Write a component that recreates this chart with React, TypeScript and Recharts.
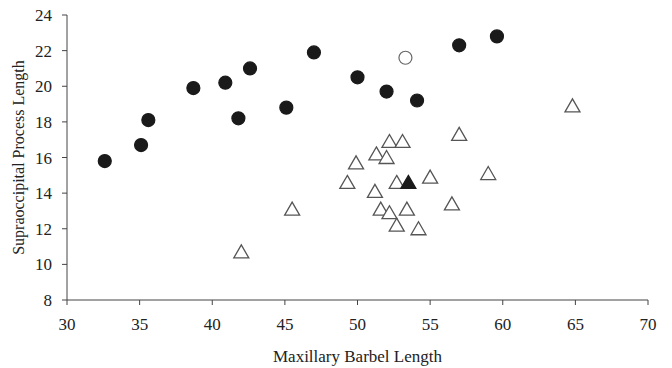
import { useEffect } from 'react'
import { ScatterChart, Scatter, XAxis, YAxis } from 'recharts'

type Pt = { x: number; y: number }

// group 1: filled circles
const filledCircles: Pt[] = [
  { x: 32.6, y: 15.8 },
  { x: 35.1, y: 16.7 },
  { x: 35.6, y: 18.1 },
  { x: 38.7, y: 19.9 },
  { x: 40.9, y: 20.2 },
  { x: 41.8, y: 18.2 },
  { x: 42.6, y: 21.0 },
  { x: 45.1, y: 18.8 },
  { x: 47.0, y: 21.9 },
  { x: 50.0, y: 20.5 },
  { x: 52.0, y: 19.7 },
  { x: 54.1, y: 19.2 },
  { x: 57.0, y: 22.3 },
  { x: 59.6, y: 22.8 },
]

const openCircles: Pt[] = [{ x: 53.3, y: 21.6 }]

const openTriangles: Pt[] = [
  { x: 42.0, y: 10.7 },
  { x: 45.5, y: 13.1 },
  { x: 49.3, y: 14.6 },
  { x: 49.9, y: 15.7 },
  { x: 51.2, y: 14.1 },
  { x: 51.3, y: 16.2 },
  { x: 51.6, y: 13.1 },
  { x: 52.0, y: 16.0 },
  { x: 52.2, y: 16.9 },
  { x: 52.2, y: 12.9 },
  { x: 52.7, y: 14.6 },
  { x: 52.7, y: 12.2 },
  { x: 53.1, y: 16.9 },
  { x: 53.4, y: 13.1 },
  { x: 54.2, y: 12.0 },
  { x: 55.0, y: 14.9 },
  { x: 56.5, y: 13.4 },
  { x: 57.0, y: 17.3 },
  { x: 59.0, y: 15.1 },
  { x: 64.8, y: 18.9 },
]

const filledTriangles: Pt[] = [{ x: 53.5, y: 14.6 }]

const xTicks = [30, 35, 40, 45, 50, 55, 60, 65, 70]
const yTicks = [8, 10, 12, 14, 16, 18, 20, 22, 24]

const FONT = '"Liberation Serif", "Times New Roman", serif'
const INK = '#222'

const circle = (fill: string, stroke: string) => (p: any) => (
  <circle cx={p.cx} cy={p.cy} r={6.5} fill={fill} stroke={stroke} strokeWidth={1.2} />
)

const triangle = (fill: string, stroke: string) => (p: any) => {
  const { cx, cy } = p
  return (
    <path
      d={`M${cx},${cy - 7} L${cx + 7.5},${cy + 6} L${cx - 7.5},${cy + 6} Z`}
      fill={fill}
      stroke={stroke}
      strokeWidth={1.3}
      strokeLinejoin="miter"
    />
  )
}

export default function App() {
  useEffect(() => {
    document.body.style.margin = '0'
  }, [])

  const tick = { fontSize: 17, fill: INK, fontFamily: FONT }

  return (
    <div style={{ width: 672, height: 368, background: '#fff' }}>
      <ScatterChart width={672} height={368} margin={{ top: 15, right: 24, bottom: 8, left: 0 }}>
        <XAxis
          type="number"
          dataKey="x"
          domain={[30, 70]}
          ticks={xTicks}
          allowDataOverflow
          height={60}
          tickSize={5}
          tickMargin={13}
          tick={tick}
          stroke="#444"
          label={{
            content: (props: any) => {
              const vb = props.viewBox
              return (
                <text x={vb.x + vb.width / 2} y={362} textAnchor="middle" fontSize={17} fill={INK} fontFamily={FONT}>
                  Maxillary Barbel Length
                </text>
              )
            },
          }}
        />
        <YAxis
          type="number"
          dataKey="y"
          domain={[8, 24]}
          ticks={yTicks}
          allowDataOverflow
          width={67}
          tickSize={5}
          tickMargin={10}
          tick={tick}
          stroke="#444"
          label={{
            content: (props: any) => {
              const vb = props.viewBox
              const cy = vb.y + vb.height / 2
              return (
                <text
                  x={20}
                  y={cy}
                  transform={`rotate(-90, 20, ${cy})`}
                  textAnchor="middle"
                  dominantBaseline="middle"
                  fontSize={16}
                  fill={INK}
                  fontFamily={FONT}
                >
                  Supraoccipital Process Length
                </text>
              )
            },
          }}
        />
        <Scatter data={filledCircles} shape={circle('#1a1a1a', '#1a1a1a')} isAnimationActive={false} />
        <Scatter data={openCircles} shape={circle('#fff', '#666')} isAnimationActive={false} />
        <Scatter data={openTriangles} shape={triangle('#fff', '#555')} isAnimationActive={false} />
        <Scatter data={filledTriangles} shape={triangle('#1a1a1a', '#1a1a1a')} isAnimationActive={false} />
      </ScatterChart>
    </div>
  )
}
